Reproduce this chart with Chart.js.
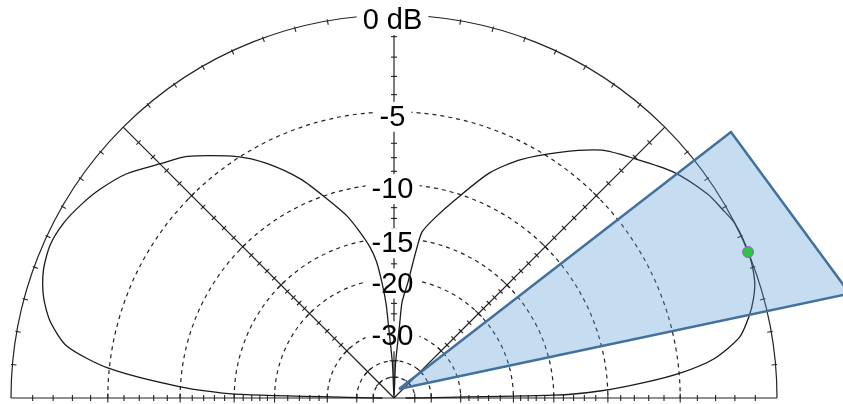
<!DOCTYPE html>
<html>
<head>
<meta charset="utf-8">
<script src="https://cdn.jsdelivr.net/npm/chart.js@4.4.1/dist/chart.umd.min.js"></script>
<style>
  body { margin: 0; background: #fff; }
  #wrap { width: 843px; height: 404px; position: relative; }
</style>
</head>
<body>
<div id="wrap"><canvas id="pattern"></canvas></div>
<script>
// elevation pattern, angle in degrees above horizon, gain in dB
const patternAngles = [0, 1, 2, 3.5, 5, 7, 10, 13, 15.5, 18, 22, 27, 30, 33, 39, 45, 50, 56, 62, 67,
  73, 77.4, 80.4, 81.3, 82, 83.1, 85.2, 85.6, 86.2, 87.5, 90, 92.5, 93.8, 94.4, 94.8, 96, 97.3, 99, 101.6, 104.5,
  108.4, 113, 118.5, 123, 130.5, 135, 140, 144.5, 148, 152, 156, 160, 164, 167.5, 171, 174, 177, 178.6, 180];
const patternGain = [-60, -15, -10.5, -7.3, -4.9, -2.95, -1.5, -0.85, -0.45, -0.17, 0, 0, -0.2, -0.4, -1.1, -2.1, -2.9, -4.4, -6.0, -7.7,
  -10.6, -12.6, -14.1, -15.8, -17.6, -20.4, -23.7, -28, -33, -42, -99, -42, -33, -28, -24, -20.4, -17.6, -15.8, -14.0, -12.2,
  -10.4, -8.2, -6.2, -4.9, -3.2, -2.5, -1.6, -1.05, -0.72, -0.42, -0.3, -0.45, -0.85, -1.45, -2.5, -4.9, -10, -15, -60];

// grid
const gridLevels = [-5, -10, -15, -20, -30, -40, -50];
const tickLevels = [-1, -2, -3, -4, -5, -6, -7, -8, -9, -10, -11, -12, -13, -14, -15, -16, -17, -18, -19, -20,
  -22, -24, -26, -28, -30, -40, -50];
const labelLevels = [0, -5, -10, -15, -20, -30];
const labelTexts = ["0 dB", "-5", "-10", "-15", "-20", "-30"];
const spokeAngles = [45, 90, 135];

// peak marker and beamwidth wedge (polar: angle deg, radius as fraction of 0 dB ring)
const peakAngle = 22.4;
const peakGain = 0;
const beamAngles = [61, 38.3, 12.9];
const beamRadii = [0.027, 1.121, 1.221];

// ARRL log scale: 2 dB steps shrink the radius by 0.89
function gainToRadius(dB) {
  return Math.pow(0.89, -dB / 2);
}

function toXY(angle, r) {
  const a = (angle * Math.PI) / 180;
  return { x: r * Math.cos(a), y: r * Math.sin(a) };
}

const patternPoints = patternAngles.map((a, i) => toXY(a, gainToRadius(patternGain[i])));
const beamPoints = beamAngles.map((a, i) => toXY(a, beamRadii[i]));
beamPoints.push(beamPoints[0]);
const peakPoint = [toXY(peakAngle, gainToRadius(peakGain))];

// pixel layout: centre at (394, 398), 0 dB ring radius 383
const R_PX = 383;
const xMin = -394 / R_PX, xMax = (843 - 394) / R_PX;
const yMin = -6 / R_PX, yMax = 398 / R_PX;

const polarGrid = {
  id: "polarGrid",
  beforeDatasetsDraw(chart) {
    const ctx = chart.ctx;
    const xs = chart.scales.x, ys = chart.scales.y;
    const cx = xs.getPixelForValue(0);
    const cy = ys.getPixelForValue(0);
    const R = xs.getPixelForValue(1) - cx;
    const rad = (dB) => R * gainToRadius(dB);

    ctx.save();
    ctx.strokeStyle = "#222";
    ctx.lineWidth = 1.2;

    // dashed rings
    ctx.setLineDash([4, 4]);
    gridLevels.forEach((dB) => {
      ctx.beginPath();
      ctx.arc(cx, cy, rad(dB), Math.PI, 2 * Math.PI);
      ctx.stroke();
    });
    ctx.setLineDash([]);

    // outer ring
    ctx.beginPath();
    ctx.arc(cx, cy, R, Math.PI, 2 * Math.PI);
    ctx.stroke();

    // ring ticks every 5 degrees
    ctx.lineWidth = 1.1;
    for (let a = 5; a < 180; a += 5) {
      if (a % 45 === 0) continue;
      const t = (a * Math.PI) / 180;
      ctx.beginPath();
      ctx.moveTo(cx + (R + 1.5) * Math.cos(t), cy - (R + 1.5) * Math.sin(t));
      ctx.lineTo(cx + (R - 4) * Math.cos(t), cy - (R - 4) * Math.sin(t));
      ctx.stroke();
    }

    // spokes with dB ticks
    const drawSpoke = (angle) => {
      const t = (angle * Math.PI) / 180;
      const ux = Math.cos(t), uy = -Math.sin(t);
      ctx.lineWidth = 1.2;
      ctx.beginPath();
      ctx.moveTo(cx, cy);
      ctx.lineTo(cx + R * ux, cy + R * uy);
      ctx.stroke();
      ctx.lineWidth = 1.1;
      tickLevels.forEach((dB) => {
        const r = rad(dB);
        const half = gridLevels.includes(dB) ? 4.5 : 3;
        const px = cx + r * ux, py = cy + r * uy;
        ctx.beginPath();
        ctx.moveTo(px - uy * half, py + ux * half);
        ctx.lineTo(px + uy * half, py - ux * half);
        ctx.stroke();
      });
    };
    drawSpoke(0);
    drawSpoke(180);
    spokeAngles.forEach(drawSpoke);

    // ring labels on white boxes
    ctx.font = "29px 'Liberation Sans', Arial, sans-serif";
    ctx.textAlign = "center";
    ctx.textBaseline = "middle";
    labelLevels.forEach((dB, i) => {
      const text = labelTexts[i];
      const w = ctx.measureText(text).width;
      const lx = cx - 1.5;
      const ly = cy - rad(dB) + 5;
      ctx.fillStyle = "#fff";
      ctx.fillRect(lx - w / 2 - 6, ly - 15, w + 12, 30);
      ctx.fillStyle = "#000";
      ctx.fillText(text, lx, ly + 1);
    });
    ctx.restore();
  },
};

new Chart(document.getElementById("pattern"), {
  type: "scatter",
  data: {
    datasets: [
      {
        data: peakPoint,
        order: 0,
        pointRadius: 5.5,
        pointBackgroundColor: "#27c93f",
        pointBorderColor: "#b04cf0",
        pointBorderWidth: 1,
      },
      {
        data: beamPoints,
        order: 1,
        showLine: true,
        fill: "shape",
        backgroundColor: "rgba(91, 155, 213, 0.35)",
        borderColor: "#41719c",
        borderWidth: 2.5,
        borderJoinStyle: "miter",
        pointRadius: 0,
        tension: 0,
      },
      {
        data: patternPoints,
        order: 2,
        showLine: true,
        borderColor: "#1a1a1a",
        borderWidth: 1.3,
        pointRadius: 0,
        tension: 0.25,
      },
    ],
  },
  options: {
    responsive: true,
    maintainAspectRatio: false,
    animation: false,
    layout: { padding: 0, autoPadding: false },
    plugins: {
      legend: { display: false },
      tooltip: { enabled: false },
    },
    scales: {
      x: { type: "linear", display: false, min: xMin, max: xMax },
      y: { type: "linear", display: false, min: yMin, max: yMax },
    },
  },
  plugins: [polarGrid],
});
</script>
</body>
</html>
